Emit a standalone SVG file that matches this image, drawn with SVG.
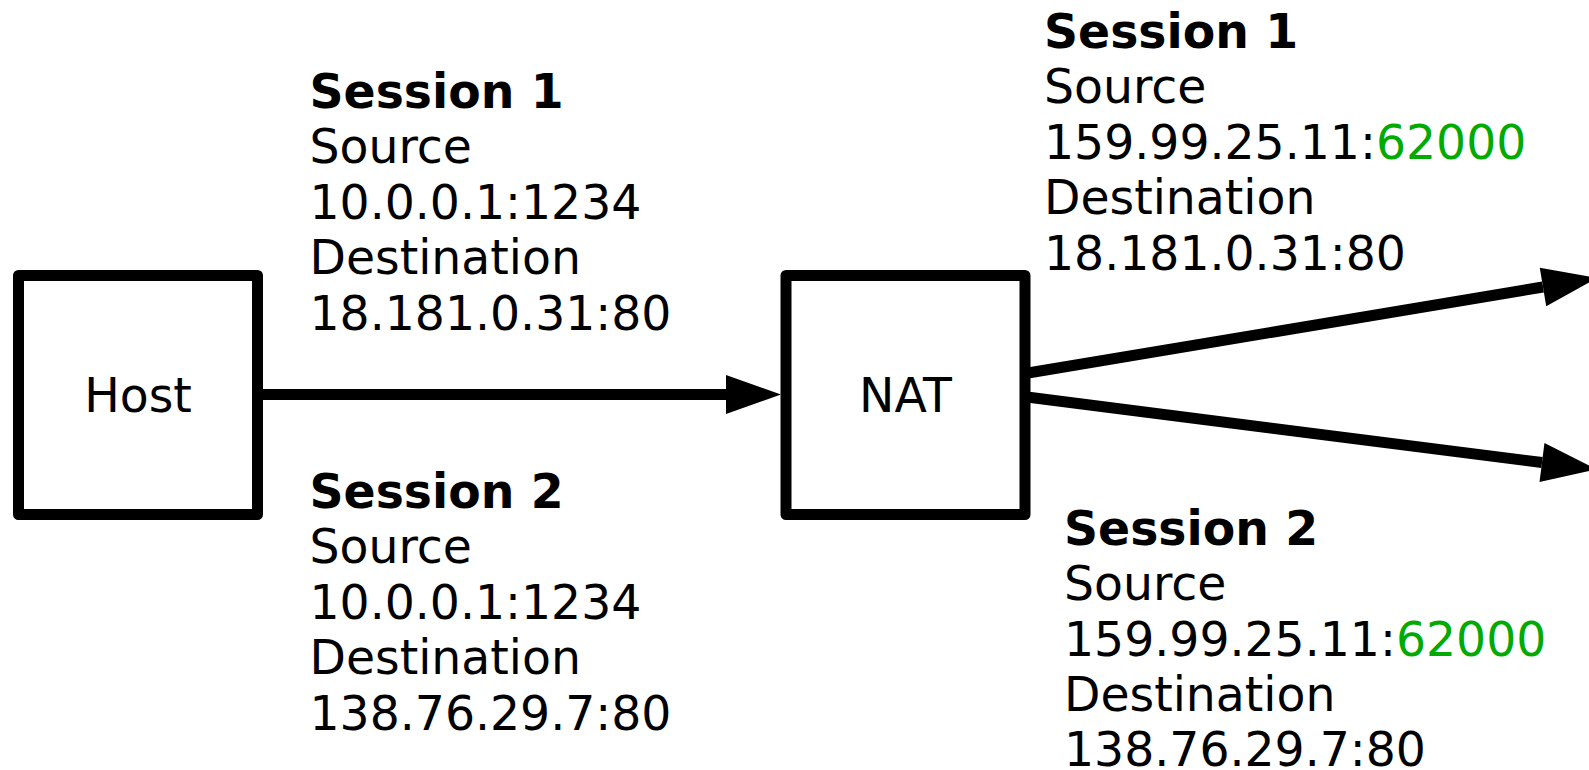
<svg xmlns="http://www.w3.org/2000/svg" width="1589" height="770" viewBox="0 0 1589 770">
<style>
.box{fill:#fff;stroke:#000;stroke-width:11;stroke-linejoin:round}
.lbl{font-family:"DejaVu Sans",sans-serif;font-size:47.3px;fill:#000}
.conn{stroke:#000;stroke-width:11;fill:none}
.b{font-weight:bold}
.g{fill:#00aa00}
</style>
<defs>
<marker id="ah" markerUnits="userSpaceOnUse" markerWidth="56" markerHeight="40" refX="0" refY="19.6" orient="auto" overflow="visible">
<path d="M0,0 L55,19.6 L0,39.2 Z" fill="#000"/>
</marker>
</defs>
<rect width="1589" height="770" fill="#fff"/>
<g id="connectors">
<line class="conn" x1="257" y1="394.5" x2="726" y2="394.5" marker-end="url(#ah)"/>
<line class="conn" x1="1025" y1="373.5" x2="1543" y2="287" marker-end="url(#ah)"/>
<line class="conn" x1="1025" y1="396.8" x2="1542" y2="462.5" marker-end="url(#ah)"/>
</g>
<g id="host">
<rect class="box" x="18.5" y="275.5" width="239" height="239"/>
<text class="lbl" x="138" y="412" text-anchor="middle">Host</text>
</g>
<g id="nat">
<rect class="box" x="786" y="275.5" width="239" height="239"/>
<text class="lbl" x="905.5" y="412" text-anchor="middle">NAT</text>
</g>
<g id="label-host-s1">
<text x="309.5" y="107.5" class="lbl b">Session 1</text>
<text x="309.5" y="163" class="lbl">Source</text>
<text x="309.5" y="218.5" class="lbl">10.0.0.1:1234</text>
<text x="309.5" y="274" class="lbl">Destination</text>
<text x="309.5" y="329.5" class="lbl">18.181.0.31:80</text>
</g>
<g id="label-host-s2">
<text x="309.5" y="507.5" class="lbl b">Session 2</text>
<text x="309.5" y="563" class="lbl">Source</text>
<text x="309.5" y="618.5" class="lbl">10.0.0.1:1234</text>
<text x="309.5" y="674" class="lbl">Destination</text>
<text x="309.5" y="729.5" class="lbl">138.76.29.7:80</text>
</g>
<g id="label-nat-s1">
<text x="1044" y="47.5" class="lbl b">Session 1</text>
<text x="1044" y="103" class="lbl">Source</text>
<text x="1044" y="158.5" class="lbl">159.99.25.11:<tspan class="g">62000</tspan></text>
<text x="1044" y="214" class="lbl">Destination</text>
<text x="1044" y="269.5" class="lbl">18.181.0.31:80</text>
</g>
<g id="label-nat-s2">
<text x="1064" y="544.5" class="lbl b">Session 2</text>
<text x="1064" y="600" class="lbl">Source</text>
<text x="1064" y="655.5" class="lbl">159.99.25.11:<tspan class="g">62000</tspan></text>
<text x="1064" y="711" class="lbl">Destination</text>
<text x="1064" y="766" class="lbl">138.76.29.7:80</text>
</g>
</svg>
